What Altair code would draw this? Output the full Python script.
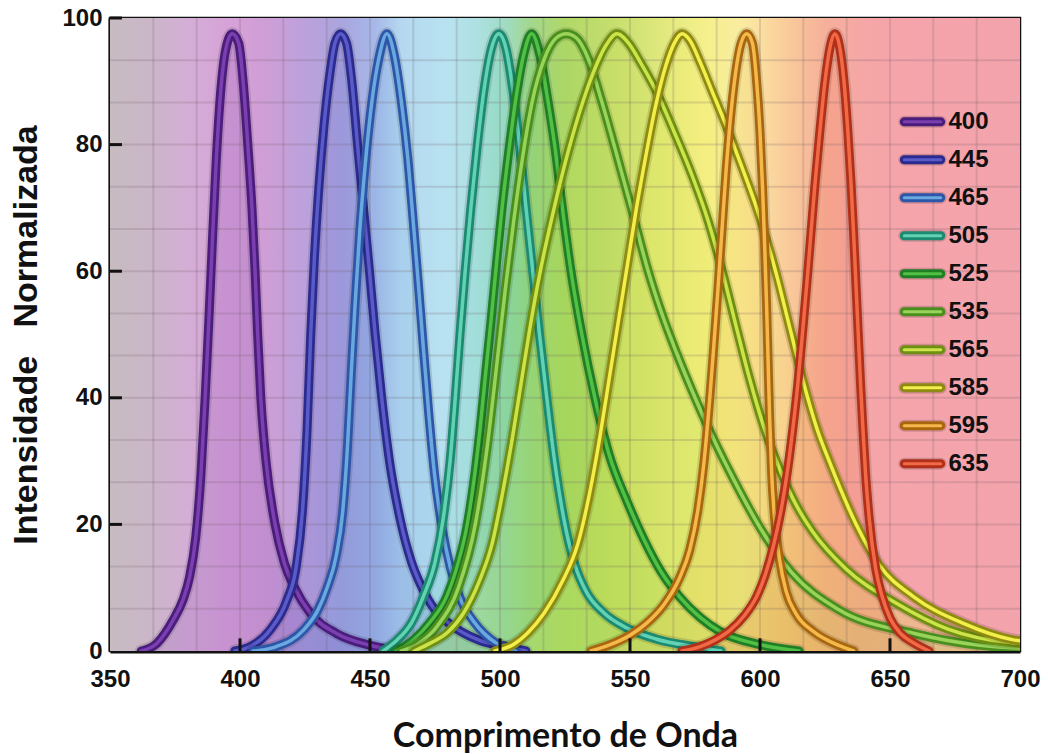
import altair as alt
import pandas as pd

# ---------------- data ----------------
SERIES = ["400", "445", "465", "505", "525", "535", "565", "585", "595", "635"]

X_400 = [362, 368, 374.3, 378, 380.5, 383, 385, 386.6, 388, 389.3, 390.8, 392.5, 394.5, 397, 399.5, 401.3, 403, 404.6, 405.8, 406.8, 408, 410, 413.5, 417, 421, 427, 437, 450, 462]
Y_400 = [0, 1.2, 4.9, 8, 11.5, 18, 28, 40, 52, 64, 77, 88, 95, 97.5, 96, 89.5, 80, 70, 60, 50, 40, 30, 20, 14, 10, 6, 2.8, 0.9, 0]

X_445 = [398, 404, 411.5, 418, 421.5, 424, 425.8, 427.2, 428.6, 430.3, 432.3, 434.5, 436.5, 438.7, 441, 443, 445.2, 447.5, 449.8, 452, 454.5, 457.5, 461.5, 466, 470, 475, 480, 492, 502.6, 510]
Y_445 = [0, 0.7, 3.3, 8, 13, 22, 35, 50, 62, 73, 83, 91, 96, 97.5, 96, 90, 80, 70, 60, 50, 40, 30, 21, 14, 10, 6.5, 4.5, 1.7, 0.7, 0]

X_465 = [405, 414, 424.4, 430, 433.5, 437, 439.5, 441.3, 442.8, 444.3, 446, 448.2, 450.8, 453.6, 456.5, 459.4, 462, 464.5, 466.6, 468.6, 470.5, 472.5, 474.8, 477.5, 481, 485, 490, 498.7, 506]
Y_465 = [0, 0.7, 3.3, 6.5, 10, 15, 22, 32, 44, 55, 66, 77, 87, 94, 97.5, 94, 87, 78, 68, 58, 48, 38, 28, 20, 13, 8, 4.6, 1.2, 0]

X_505 = [455, 460.3, 466, 470.5, 475, 478.2, 480.8, 482.8, 484.6, 486.6, 488.8, 491.3, 493.8, 496.6, 499.5, 502.4, 505, 507.5, 510, 512.6, 515.2, 518, 521, 524.5, 528.5, 533, 540, 548, 560, 576, 585]
Y_505 = [0, 1.7, 4.5, 8.6, 14, 21, 30, 40, 50, 60, 70, 80, 88.5, 95, 97.5, 95, 88.5, 80, 70, 60, 50, 40, 30, 21, 14, 9.5, 6, 3.8, 1.9, 0.6, 0]

X_525 = [460, 466.6, 473, 479.5, 484, 487.2, 490, 492.3, 494.5, 496.5, 498.6, 500.8, 503.4, 506.2, 509, 512.2, 515.4, 518.2, 521, 524, 527.3, 531.5, 536.5, 542, 549, 555.5, 562, 569, 577, 585, 600, 615]
Y_525 = [0, 1.7, 4.5, 8.6, 14, 19.5, 27, 35, 44, 52, 61, 70, 79, 87.5, 94, 97.5, 94, 87.5, 80, 70, 60, 50, 40, 31, 23.5, 17.5, 12.5, 8.6, 5.3, 3, 1, 0]

X_535 = [462, 468, 476, 484, 490.5, 495, 498.7, 502, 505.3, 508.7, 512.5, 517, 521.5, 525.5, 529.5, 534, 539, 544.5, 550.5, 557, 562.5, 568, 574, 581, 590, 600, 612, 630, 659, 684.6, 700]
Y_535 = [0, 1, 4, 10, 20, 32, 45, 57, 68, 78, 87, 93.5, 96.8, 97.5, 96.8, 93.5, 87, 79, 70, 60, 53, 47, 41, 34.5, 27, 19.5, 12.5, 6.6, 2.8, 0.9, 0.4]

X_565 = [467, 473, 480, 486, 492, 497, 501, 504.5, 508, 511.5, 515.5, 520, 525, 530.5, 536, 540.5, 545, 549.5, 554, 560, 567, 574, 580, 585.5, 591, 596, 601, 607.7, 614, 620, 633, 652.6, 672, 697, 700]
Y_565 = [0, 1.2, 3, 6, 11, 17, 25, 33, 42, 51, 60, 68.5, 77, 85, 91.5, 95.5, 97.5, 96, 93, 88.5, 82, 75, 68, 60, 51, 43, 36, 28.6, 23, 19, 13, 7.5, 3.5, 1.3, 1.2]

X_585 = [498, 505, 511, 517, 524, 530, 534.5, 538.5, 542, 545.5, 549, 552.5, 556, 559.8, 563.8, 567, 570, 573, 577, 581.5, 586, 593, 600, 606, 611.5, 617, 622, 627, 637, 646, 659, 678, 697, 700]
Y_585 = [0, 1, 3, 6, 11, 17, 25, 34, 43, 52, 61, 70, 78, 86, 92.5, 96, 97.5, 96.5, 93, 88.5, 84, 76.5, 68.4, 60, 51, 42, 35, 29.6, 20, 13.5, 8.6, 4.4, 1.8, 1.6]

X_595 = [535, 543.6, 550, 556.4, 563, 569, 573, 576, 578.5, 580.5, 582.2, 583.8, 585.3, 586.8, 588.6, 590.5, 592.7, 594.9, 597.1, 598.7, 600, 601, 601.8, 602.5, 603.1, 603.7, 604.5, 605.6, 607.5, 610, 614, 620.5, 630.8, 636]
Y_595 = [0, 1.2, 2.5, 4.4, 7.3, 11.5, 16, 22, 30, 39, 48, 57, 66, 75, 84, 91, 96, 97.5, 96, 90, 82, 73, 64, 55, 46, 37, 28, 21, 14.5, 9.5, 5.8, 3.1, 0.8, 0]

X_635 = [570, 577, 583, 588.5, 594, 598.7, 602, 605.1, 608, 610.4, 612.6, 614.5, 616.3, 618, 619.6, 621.2, 623, 625, 627, 628.8, 630.6, 632.3, 633.8, 635, 636, 636.9, 637.8, 638.7, 639.6, 640.6, 642, 644.5, 647, 650, 654, 659, 665]
Y_635 = [0, 0.7, 1.8, 3.3, 5.6, 8.6, 12, 16.5, 22, 28, 35, 42, 50, 58, 66, 74, 82, 90, 95.5, 97.5, 95.5, 90, 82, 74, 66, 58, 50, 42, 35, 28, 21, 13, 8.6, 5.2, 2.8, 1.3, 0]

XS = [X_400, X_445, X_465, X_505, X_525, X_535, X_565, X_585, X_595, X_635]
YS = [Y_400, Y_445, Y_465, Y_505, Y_525, Y_535, Y_565, Y_585, Y_595, Y_635]

OUTER = ["#4a1d7d", "#2b2b8f", "#2d56a8", "#1b8a70", "#1f7f25", "#4a8f1e", "#6f8f12", "#8f8a12", "#a8660f", "#b0301a"]
INNER = ["#7b3fb0", "#5a5ac8", "#6aa8e0", "#62d2b4", "#52bf45", "#98d35a", "#cce34a", "#f2ee4a", "#f5b84a", "#f26a45"]

X_TICKS = [350, 400, 450, 500, 550, 600, 650, 700]
Y_TICKS = [0, 20, 40, 60, 80, 100]

# background spectrum (wavelength, colour)
BG_NM = [350, 365, 380, 395, 410, 425, 440, 452, 462, 480, 492, 502, 512, 525, 545, 565, 580, 592, 600, 612, 625, 640, 660, 700]
BG_COL = ["#c6bcc0", "#cbb6c8", "#d4aed6", "#d7a2d8", "#cf9ed6", "#bca1dc", "#a9a6df", "#a6b8e8", "#b5d8f0", "#b8e2f0",
          "#ade0e0", "#a0dcc4", "#a3d78c", "#b0d868", "#c8df6e", "#e4ea80", "#f6f08c", "#f9eca0", "#fbdfa0", "#f9c89a",
          "#f6b09a", "#f5a6a6", "#f5a4ac", "#f3a3ab"]

# ---------------- chart ----------------
XMIN, XMAX, YMIN, YMAX = 350, 700, 0, 100
xscale = alt.Scale(domain=[XMIN, XMAX], nice=False, zero=False)
yscale = alt.Scale(domain=[YMIN, YMAX], nice=False)

label_font = "Liberation Sans"

XAXIS = alt.Axis(values=X_TICKS, title="Comprimento de Onda", grid=False, ticks=False, tickSize=0,
                 labelFlush=False, labelOverlap=False,
                 labelFont=label_font, labelFontSize=24, labelFontWeight="bold", labelColor="#111",
                 labelPadding=16, domainColor="#111", domainWidth=4,
                 titleFont="Lato", titleFontSize=34, titleFontWeight="bold", titleColor="#111",
                 titlePadding=28)
YAXIS = alt.Axis(values=Y_TICKS, title="Intensidade\u00a0\u00a0 Normalizada", grid=False, ticks=False, tickSize=0,
                 labelFlush=False, labelOverlap=False,
                 labelFont=label_font, labelFontSize=24, labelFontWeight="bold", labelColor="#111",
                 labelPadding=8, domainColor="#111", domainWidth=4,
                 titleFont=label_font, titleFontSize=34, titleFontWeight="bold", titleColor="#111",
                 titlePadding=18)


def X(field):
    return alt.X(field, type="quantitative", scale=xscale, axis=XAXIS)


def Y(field):
    return alt.Y(field, type="quantitative", scale=yscale, axis=YAXIS)


stops = [alt.GradientStop(color=c, offset=(n - XMIN) / (XMAX - XMIN)) for n, c in zip(BG_NM, BG_COL)]
bg_df = pd.DataFrame({"x0": [XMIN], "x1": [XMAX], "y0": [YMIN], "y1": [YMAX]})
background = alt.Chart(bg_df).mark_rect(
    color=alt.Gradient(gradient="linear", stops=stops, x1=0, x2=1, y1=0, y2=0)
).encode(x=X("x0"), x2="x1:Q", y=Y("y0"), y2="y1:Q")

# grid lines (3 per labelled interval)
gx = pd.DataFrame({"gx": [XMIN + k * 50 / 3 for k in range(1, 21)]})
gy = pd.DataFrame({"gy": [k * 20 / 3 for k in range(1, 15)]})
grid_v = alt.Chart(gx).mark_rule(color="#6e5a66", opacity=0.2, strokeWidth=2).encode(x=X("gx"))
grid_h = alt.Chart(gy).mark_rule(color="#6e5a66", opacity=0.2, strokeWidth=2).encode(y=Y("gy"))

layers = [background]

curve_frames = [pd.DataFrame({"x": xs, "y": ys, "s": s}) for s, xs, ys in zip(SERIES, XS, YS)]

# translucent fills under curves
for df, inner in zip(curve_frames, INNER):
    layers.append(alt.Chart(df).mark_area(color=inner, opacity=0.16, interpolate="monotone", clip=True)
                  .encode(x=X("x"), y=Y("y")))

layers += [grid_v, grid_h]

# double-stroke curves
for df, outer, inner in zip(curve_frames, OUTER, INNER):
    layers.append(alt.Chart(df).mark_line(color="#000000", opacity=0.12, strokeWidth=13, interpolate="monotone",
                                          strokeCap="round", clip=True).encode(x=X("x"), y=Y("y")))
    layers.append(alt.Chart(df).mark_line(color=outer, strokeWidth=9, interpolate="monotone",
                                          strokeCap="round", strokeJoin="round", clip=True).encode(x=X("x"), y=Y("y")))
    layers.append(alt.Chart(df).mark_line(color=inner, strokeWidth=3.5, interpolate="monotone",
                                          strokeCap="round", strokeJoin="round", clip=True).encode(x=X("x"), y=Y("y")))

# inward tick marks
xt = pd.DataFrame({"t": X_TICKS[1:-1], "a": 0, "b": 2.0})
yt = pd.DataFrame({"t": Y_TICKS[1:], "a": XMIN, "b": XMIN + 4.6})
layers.append(alt.Chart(xt).mark_rule(color="#111", strokeWidth=3).encode(x=X("t"), y=Y("a"), y2="b:Q"))
layers.append(alt.Chart(yt).mark_rule(color="#111", strokeWidth=3).encode(y=Y("t"), x=X("a"), x2="b:Q"))

# legend drawn inside the plot
LEG_TOP, LEG_STEP = 83.6, 6.0
leg = pd.DataFrame({
    "s": SERIES,
    "ly": [LEG_TOP - i * LEG_STEP for i in range(len(SERIES))],
    "outer": OUTER,
    "inner": INNER,
    "x0": 655.5, "x1": 669.5, "xt": 672.5,
})
layers.append(alt.Chart(leg).mark_rule(strokeWidth=12, strokeCap="round", color="#000", opacity=0.15)
              .encode(x=X("x0"), x2="x1:Q", y=Y("ly")))
layers.append(alt.Chart(leg).mark_rule(strokeWidth=9, strokeCap="round")
              .encode(x=X("x0"), x2="x1:Q", y=Y("ly"), color=alt.Color("outer:N", scale=None)))
layers.append(alt.Chart(leg).mark_rule(strokeWidth=3, strokeCap="round")
              .encode(x=X("x0"), x2="x1:Q", y=Y("ly"), color=alt.Color("inner:N", scale=None)))
layers.append(alt.Chart(leg).mark_text(align="left", baseline="middle", font=label_font, fontSize=24,
                                       fontWeight="bold", color="#111")
              .encode(x=X("xt"), y=Y("ly"), text="s:N"))

chart = alt.layer(*layers).properties(
    width=910, height=633,
    autosize=alt.AutoSizeParams(type="none"),
    padding={"left": 110, "top": 18, "right": 28, "bottom": 103},
    background="white",
).configure_view(stroke="#111", strokeWidth=2.5)

chart.save("out.html", embed_options={"renderer": "svg", "actions": False})
